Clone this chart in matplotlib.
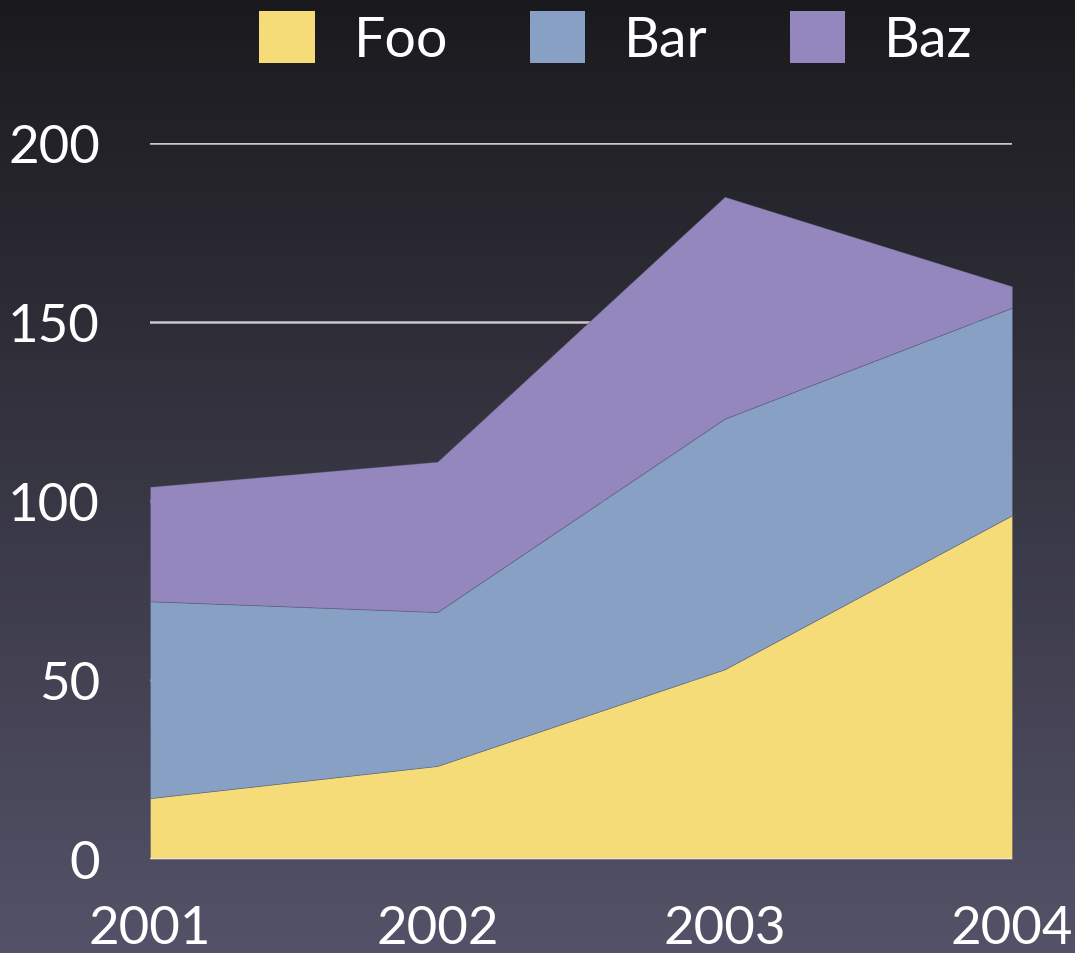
import numpy as np
import matplotlib
matplotlib.use("Agg")
import matplotlib.pyplot as plt
from matplotlib.patches import Patch

years = [2001, 2002, 2003, 2004]
foo = [17, 26, 53, 96]
bar = [55, 43, 70, 58]
baz = [32, 42, 62, 6]
series_names = ["Foo", "Bar", "Baz"]
series_colors = ["#f5dc78", "#87a0c3", "#9387bd"]
y_ticks = [0, 50, 100, 150, 200]

plt.rcParams['font.family'] = ['Lato', 'DejaVu Sans']

fig = plt.figure(figsize=(10.75, 9.54), dpi=100)

# dark gradient background
bg = fig.add_axes([0, 0, 1, 1], zorder=-10)
top = np.array([26, 26, 30]) / 255
bottom = np.array([84, 82, 104]) / 255
t = np.linspace(0, 1, 256)[:, None]
grad = top + (bottom - top) * t
bg.imshow(grad[:, None, :], aspect='auto', extent=[0, 1, 0, 1])
bg.axis('off')

ax = fig.add_axes([150 / 1075, 94 / 954, 862 / 1075, 716 / 954])
ax.patch.set_alpha(0)

ax.stackplot(years, foo, bar, baz, colors=series_colors,
             edgecolor=(0.3, 0.3, 0.4, 0.4), linewidth=0.6, zorder=2)

for v in y_ticks[1:]:
    ax.axhline(v, color="#c8c8cc", linewidth=1.8, zorder=1)
ax.axhline(0, color="#e8e8ea", linewidth=2.2, zorder=3)

ax.set_xlim(2001, 2004)
ax.set_ylim(0, 200)
ax.set_xticks(years)
ax.set_xticklabels([str(y) for y in years])
ax.set_yticks(y_ticks)
ax.tick_params(axis='both', length=0, colors='white', labelsize=38)
ax.tick_params(axis='y', pad=36)
ax.tick_params(axis='x', pad=33)
for s in ax.spines.values():
    s.set_visible(False)

handles = [Patch(facecolor=c, edgecolor='none') for c in series_colors]
fig.legend(handles, series_names, loc='upper left', bbox_to_anchor=(226 / 1075, 1.022),
           ncol=3, frameon=False, fontsize=40, labelcolor='white',
           handlelength=1.0, handleheight=1.05, handletextpad=0.7,
           columnspacing=1.47, borderaxespad=0.2)

fig.savefig("out.png", dpi=100)
